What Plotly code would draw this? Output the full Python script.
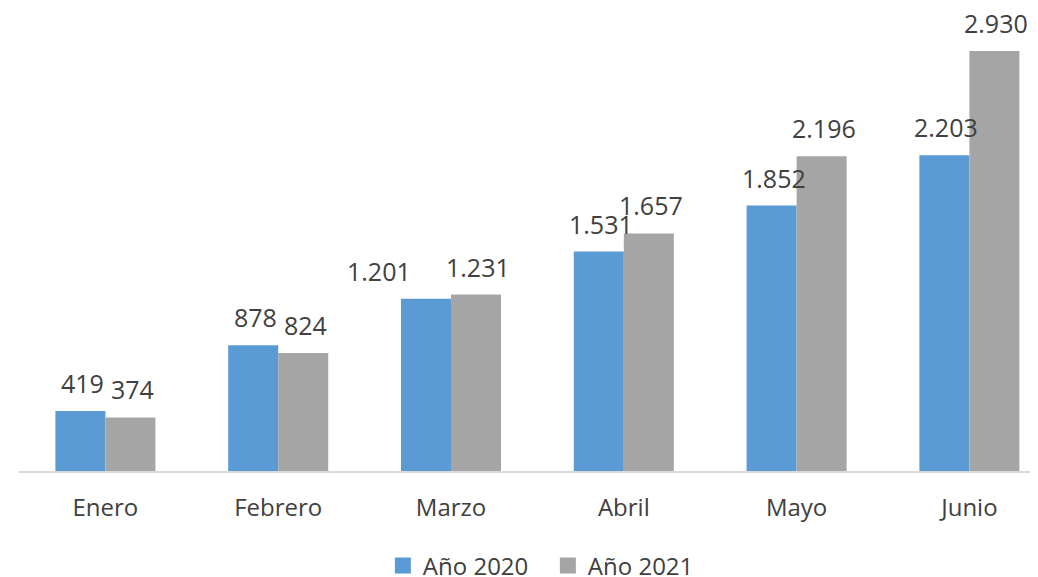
import plotly.graph_objects as go

months = ["Enero", "Febrero", "Marzo", "Abril", "Mayo", "Junio"]
y2020 = [419, 878, 1201, 1531, 1852, 2203]
y2021 = [374, 824, 1231, 1657, 2196, 2930]
series_names = ["Año 2020", "Año 2021"]
colors = ["#5B9BD5", "#A5A5A5"]

def fmt(v):
    return f"{v:,}".replace(",", ".")

FONT = "Open Sans"
TXT = "#404040"

# extra horizontal nudge of individual labels (as in the original layout)
label_nudge = {(0, "Marzo"): -49}

fig = go.Figure()
for name, vals, col in zip(series_names, [y2020, y2021], colors):
    fig.add_trace(go.Bar(x=months, y=vals, name=name, marker_color=col,
                         marker_line_width=0, hoverinfo="skip", showlegend=False))
# legend entries with square markers
for name, col in zip(series_names, colors):
    fig.add_trace(go.Scatter(x=[None], y=[None], mode="markers", name=name,
                             marker=dict(symbol="square", size=16, color=col)))

annotations = []
for si, (vals, shift) in enumerate([(y2020, -23), (y2021, 27)]):
    for m, v in zip(months, vals):
        annotations.append(dict(x=m, y=v, text=fmt(v), showarrow=False,
                                xshift=shift + label_nudge.get((si, m), 0),
                                yanchor="bottom", yshift=9,
                                font=dict(family=FONT, size=25, color=TXT)))

fig.update_layout(
    width=1038, height=577,
    margin=dict(l=11, r=8, t=0, b=114, autoexpand=False),
    paper_bgcolor="white", plot_bgcolor="white",
    barmode="group", bargap=0.421, bargroupgap=0,
    annotations=annotations,
    xaxis=dict(range=[-0.5, 5.397], showline=True, linecolor="#D9D9D9", linewidth=2,
               ticks="", showgrid=False, automargin=False,
               tickfont=dict(family=FONT, size=24, color=TXT), ticklabelstandoff=14),
    yaxis=dict(range=[0, 3230], visible=False, showgrid=False, zeroline=False,
               automargin=False),
    legend=dict(orientation="h", x=0.519, xanchor="center", yref="container",
                y=0.033, yanchor="middle",
                font=dict(family=FONT, size=24, color=TXT), itemwidth=30,
                entrywidth=120, traceorder="normal"),
    showlegend=True,
)
fig.write_html("out.html")
